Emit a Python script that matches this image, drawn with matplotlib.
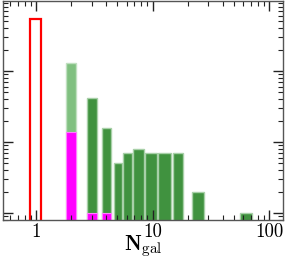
import matplotlib
matplotlib.use('Agg')
import matplotlib.pyplot as plt
import numpy as np

plt.rcParams['font.family'] = 'serif'
plt.rcParams['font.serif'] = ['cmr10', 'DejaVu Serif']
plt.rcParams['mathtext.fontset'] = 'cm'
plt.rcParams['axes.formatter.use_mathtext'] = True

# bin edges (N_gal) and counts
single_lo, single_hi, single_n = [0.89], [1.11], [535]

pair_lo, pair_hi, pair_n = [1.80], [2.22], [128]

group_lo = [2.72, 3.66, 4.64, 5.6, 6.8, 8.6, 11.1, 14.9, 21.8, 56.4]
group_hi = [3.32, 4.38, 5.5, 6.65, 8.4, 10.9, 14.5, 18.4, 27.5, 71.0]
group_n = [42, 16, 5, 7, 8, 7, 7, 7, 2, 1]

sub_lo = [1.80, 2.72, 3.66]
sub_hi = [2.22, 3.32, 4.38]
sub_n = [14, 1, 1]


def draw(ax, lo, hi, n, **kw):
    lo = np.array(lo)
    hi = np.array(hi)
    ax.bar(lo, n, width=hi - lo, align='edge', bottom=0.5, **kw)


fig = plt.figure(figsize=(2.85, 2.59), dpi=100)
ax = fig.add_axes([0.0105, 0.1506, 0.9825, 0.8454])

draw(ax, pair_lo, pair_hi, np.array(pair_n) - 0.5, color='#80c080',
     edgecolor='#c0e0c0', linewidth=1)
draw(ax, group_lo, group_hi, np.array(group_n) - 0.5, color='#40923f',
     edgecolor='#a8d0a8', linewidth=1)
draw(ax, sub_lo, sub_hi, np.array(sub_n) - 0.5, color='#ff00ff',
     edgecolor='#ff80ff', linewidth=0.8)
draw(ax, single_lo, single_hi, np.array(single_n) - 0.5, fill=False,
     edgecolor='red', linewidth=1.6)

ax.set_xscale('log')
ax.set_yscale('log')
ax.set_xlim(0.52, 132)
ax.set_ylim(0.8, 970)

ax.xaxis.set_major_formatter(matplotlib.ticker.FuncFormatter(lambda v, p: '%d' % v))
ax.yaxis.set_major_formatter(matplotlib.ticker.NullFormatter())
ax.yaxis.set_minor_formatter(matplotlib.ticker.NullFormatter())
ax.tick_params(which='both', direction='in', top=True, right=True, labelsize=13.5,
               color='#222222', pad=2)
ax.tick_params(which='major', length=7, width=1)
ax.tick_params(which='minor', length=3.5, width=0.8)
for s in ax.spines.values():
    s.set_color('#555555')
    s.set_linewidth(1)

# x label placed by hand so it sits just above the bottom edge like the original
fig.text(0.502, 0.0, r'$\mathbf{N}_{\rm gal}$', fontsize=15.5,
         ha='center', va='bottom')

fig.savefig('out.png', dpi=100)
